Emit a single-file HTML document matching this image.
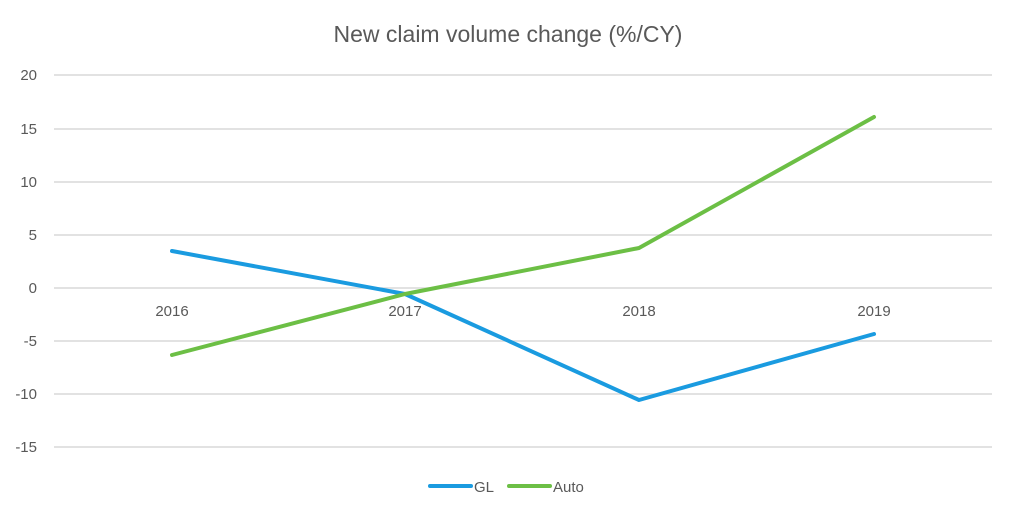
<!DOCTYPE html>
<html><head><meta charset="utf-8"><style>
html,body{margin:0;padding:0;background:#fff;width:1024px;height:521px;overflow:hidden}
svg{display:block;font-family:"Liberation Sans",sans-serif}
</style></head><body>
<svg width="1024" height="521" viewBox="0 0 1024 521">
<text x="508" y="42" text-anchor="middle" font-size="23" fill="#595959">New claim volume change (%/CY)</text>
<g stroke="#d9d9d9" stroke-width="1.5">
<line x1="54" x2="992" y1="75" y2="75"/><line x1="54" x2="992" y1="129" y2="129"/>
<line x1="54" x2="992" y1="182" y2="182"/><line x1="54" x2="992" y1="235" y2="235"/>
<line x1="54" x2="992" y1="288" y2="288"/><line x1="54" x2="992" y1="341" y2="341"/>
<line x1="54" x2="992" y1="394" y2="394"/><line x1="54" x2="992" y1="447" y2="447"/>
</g>
<g font-size="15" fill="#595959" text-anchor="end">
<text x="37" y="80">20</text><text x="37" y="134">15</text><text x="37" y="187">10</text>
<text x="37" y="240">5</text><text x="37" y="293">0</text><text x="37" y="346">-5</text>
<text x="37" y="399">-10</text><text x="37" y="452">-15</text>
</g>
<g font-size="15" fill="#595959" text-anchor="middle">
<text x="172" y="316">2016</text><text x="405" y="316">2017</text>
<text x="639" y="316">2018</text><text x="874" y="316">2019</text>
</g>
<polyline points="172,251 405,294 639,400 874,334" fill="none" stroke="#1a9be0" stroke-width="4" stroke-linejoin="round" stroke-linecap="round"/>
<polyline points="172,355 405,294 639,248 874,117" fill="none" stroke="#6cbf45" stroke-width="4" stroke-linejoin="round" stroke-linecap="round"/>
<line x1="430" x2="471" y1="486" y2="486" stroke="#1a9be0" stroke-width="4" stroke-linecap="round"/>
<text x="474" y="492" font-size="15" fill="#595959">GL</text>
<line x1="509" x2="550" y1="486" y2="486" stroke="#6cbf45" stroke-width="4" stroke-linecap="round"/>
<text x="553" y="492" font-size="15" fill="#595959">Auto</text>
</svg>
</body></html>
